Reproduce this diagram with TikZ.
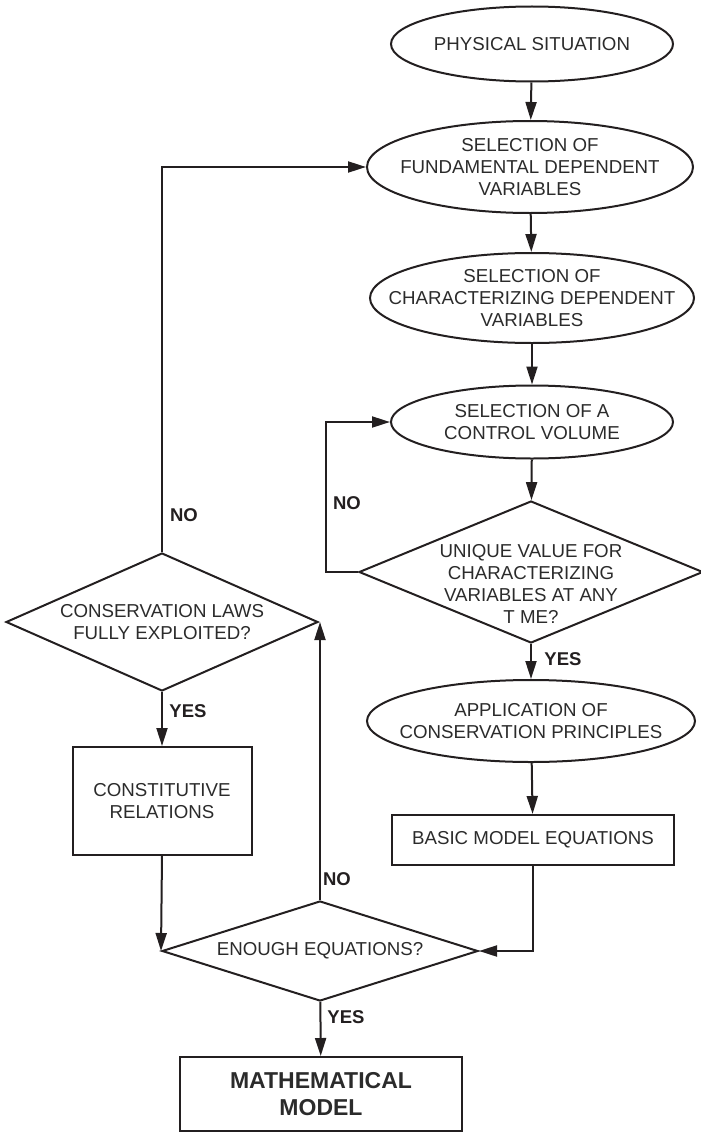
\documentclass[tikz,border=0pt]{standalone}
\usepackage{fontspec}
\setmainfont{Liberation Sans}
\usetikzlibrary{shapes.geometric,arrows.meta,calc}
\definecolor{linec}{HTML}{231F20}
\definecolor{textc}{HTML}{2B2B2B}
\begin{document}
\begin{tikzpicture}[x=1pt,y=-1pt,
  every node/.style={text=textc,align=center,font=\fontsize{18.7}{21.7}\selectfont},
  ell/.style={ellipse,draw=linec,line width=2pt,inner xsep=-40pt,inner ysep=-10pt},
  dia/.style={diamond,draw=linec,line width=2pt,inner sep=-80pt},
  box/.style={rectangle,draw=linec,line width=2pt,inner sep=0pt},
  lbl/.style={font=\fontsize{18.5}{20}\bfseries\selectfont,text=linec},
  arr/.style={draw=linec,line width=2pt,-{Triangle[length=18pt,width=11pt]}},
  ln/.style={draw=linec,line width=2pt}]
\useasboundingbox (0,0) rectangle (701,1132);

\node[ell,minimum width=282pt,minimum height=75pt] (ps) at (532,44) {PHYSICAL SITUATION};
\node[ell,minimum width=326pt,minimum height=92pt] (fund) at (530,167) {SELECTION OF\\FUNDAMENTAL DEPENDENT\\VARIABLES};
\node[ell,minimum width=324pt,minimum height=90pt] (char) at (532,298) {SELECTION OF\\CHARACTERIZING DEPENDENT\\VARIABLES};
\node[ell,minimum width=282pt,minimum height=73pt] (cv) at (532,422) {SELECTION OF A\\CONTROL VOLUME};
\node[dia,minimum width=344pt,minimum height=142pt] (uniq) at (531,572) {};
\node (uniqt) at (531,584) {UNIQUE VALUE FOR\\CHARACTERIZING\\VARIABLES AT ANY\\T ME?};
\node[ell,minimum width=328pt,minimum height=82pt] (app) at (531,721) {APPLICATION OF\\CONSERVATION PRINCIPLES};
\node[box,minimum width=282pt,minimum height=50pt] (bme) at (533,840) {BASIC MODEL EQUATIONS};
\node[dia,minimum width=312pt,minimum height=138pt] (cons) at (162,622) {CONSERVATION LAWS\\FULLY EXPLOITED?};
\node[box,minimum width=179pt,minimum height=108pt] (constit) at (162,801) {CONSTITUTIVE\\RELATIONS};
\node[dia,minimum width=316pt,minimum height=100pt] (enough) at (320,951) {ENOUGH EQUATIONS?};
\node[box,minimum width=282pt,minimum height=74pt,font=\fontsize{23}{27}\bfseries\selectfont] (math) at (321,1094) {MATHEMATICAL\\MODEL};

\draw[arr] (ps) -- (fund);
\draw[arr] (fund) -- (char);
\draw[arr] (char) -- (cv);
\draw[arr] (cv) -- (uniq);
\draw[arr] (uniq) -- (app);
\draw[arr] (app) -- (bme);
\draw[arr] (bme.south) |- (enough.east);
\coordinate (cvl) at (326,572);
\draw[arr] (uniq.west) -- (cvl) |- (cv.west);
\draw[arr] (enough.north) -- (enough.north |- cons.east);
\draw[arr] (cons.north) |- (fund.west);
\draw[arr] (cons) -- (constit);
\draw[arr] (constit.south) -- (enough.west);
\draw[arr] (enough) -- (math);

\node[lbl] (l1) at (563,659) {YES};
\node[lbl] (l2) at (347,503) {NO};
\node[lbl] (l3) at (184,515) {NO};
\node[lbl] (l4) at (188,711) {YES};
\node[lbl] (l5) at (337,879) {NO};
\node[lbl] (l6) at (346,1017) {YES};
\end{tikzpicture}
\end{document}
